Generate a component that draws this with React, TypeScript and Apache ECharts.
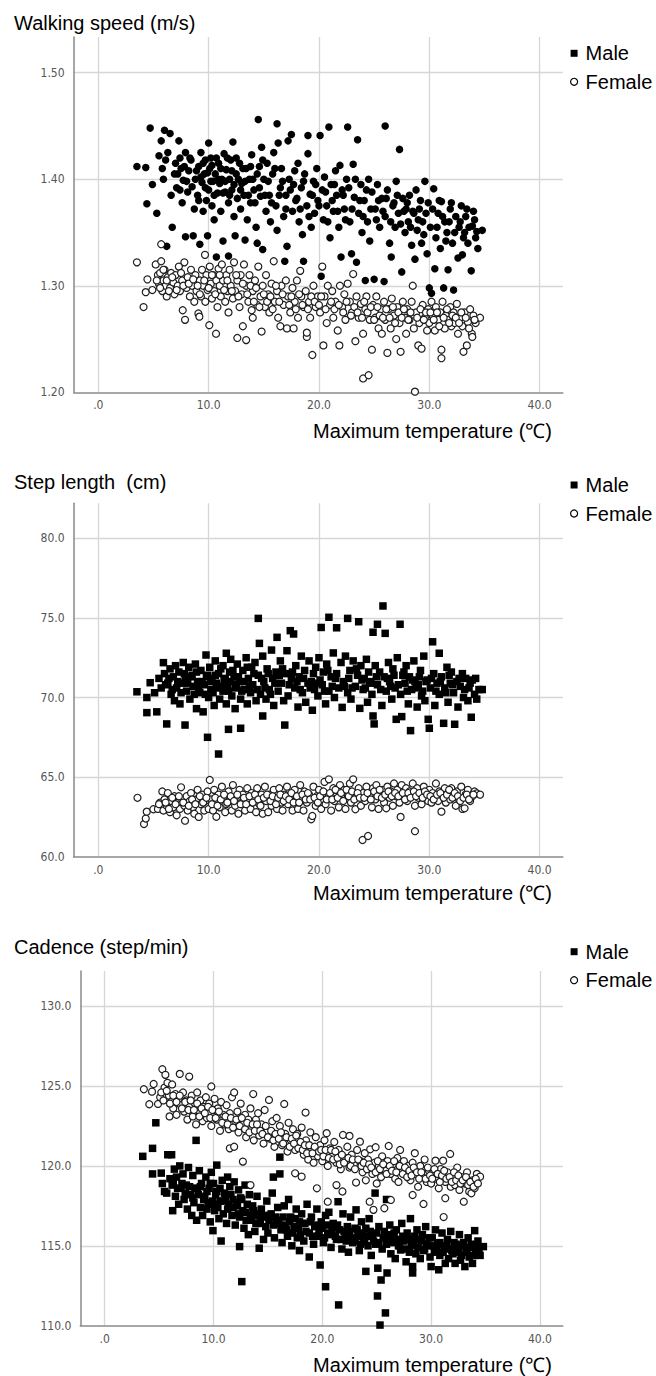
import React, { useEffect, useRef } from "react";
import * as echarts from "echarts";

const panelTitles = ["Walking speed (m/s)", "Step length  (cm)", "Cadence (step/min)"];
const xAxisTitle = "Maximum temperature (\u2103)";
const seriesNames = ["Male", "Female"];
const xTickValues = [0, 10, 20, 30, 40];

// Walking speed (m/s)
const male1: number[][] = [
  [3.5,1.412],[4.3,1.411],[4.4,1.377],[4.7,1.448],[4.9,1.395],[5.3,1.368],
  [5.5,1.422],[5.7,1.436],[5.8,1.41],[5.9,1.4],[6.0,1.446],[6.1,1.418],[6.2,1.337],[6.3,1.425],[6.5,1.443],[6.6,1.385],[6.7,1.355],
  [6.9,1.405],[7.0,1.415],[7.1,1.392],[7.3,1.436],[7.4,1.42],[7.5,1.41],[7.6,1.378],[7.7,1.399],[7.9,1.346],[7.9,1.425],[8.1,1.388],[8.2,1.408],[8.4,1.418],[8.6,1.347],[8.7,1.372],[8.8,1.4],
  [9.0,1.385],[9.1,1.412],[9.2,1.339],[9.3,1.425],[9.4,1.397],[9.5,1.37],[9.6,1.405],[9.7,1.418],[9.8,1.38],[9.9,1.347],[10.0,1.434],[10.0,1.39],
  [10.1,1.41],[10.2,1.42],[10.3,1.375],[10.4,1.398],[10.5,1.362],[10.6,1.405],[10.7,1.327],[10.8,1.387],[10.9,1.415],[11.0,1.396],[11.1,1.37],[11.2,1.4],[11.3,1.342],[11.4,1.424],[11.5,1.388],[11.6,1.409],[11.8,1.328],[11.8,1.378],[11.9,1.4],
  [12.0,1.418],[12.1,1.39],[12.2,1.435],[12.3,1.365],[12.4,1.347],[12.5,1.405],[12.6,1.382],[12.8,1.415],[12.9,1.372],[13.0,1.396],[13.2,1.385],[13.3,1.343],[13.4,1.41],[13.5,1.362],[13.7,1.4],[13.8,1.378],[13.9,1.423],
  [14.1,1.39],[14.3,1.355],[14.4,1.34],[14.5,1.456],[14.6,1.412],[14.7,1.384],[14.8,1.43],[14.9,1.334],[15.0,1.4],[15.2,1.37],[15.3,1.415],[15.5,1.385],[15.6,1.36],[15.8,1.405],[15.9,1.425],
  [16.1,1.375],[16.2,1.452],[16.2,1.352],[16.3,1.434],[16.5,1.392],[16.6,1.41],[16.8,1.365],[16.9,1.323],[17.0,1.385],[17.1,1.337],[17.2,1.436],[17.3,1.4],[17.5,1.442],[17.6,1.37],[17.7,1.395],[17.9,1.38],
  [18.1,1.415],[18.2,1.36],[18.4,1.392],[18.5,1.348],[18.6,1.323],[18.7,1.405],[18.9,1.375],[19.0,1.441],[19.0,1.424],[19.2,1.386],[19.3,1.355],[19.5,1.398],[19.6,1.368],[19.8,1.41],[19.9,1.38],
  [20.1,1.441],[20.2,1.309],[20.3,1.39],[20.4,1.362],[20.5,1.402],[20.7,1.375],[20.9,1.449],[21.0,1.345],[21.1,1.395],[21.3,1.37],[21.5,1.408],[21.6,1.385],[21.8,1.355],[21.9,1.413],
  [22.0,1.327],[22.1,1.39],[22.3,1.372],[22.5,1.4],[22.6,1.449],[22.8,1.36],[22.95,1.33],[23.1,1.414],[23.2,1.383],[23.4,1.322],[23.5,1.437],[23.6,1.368],[23.8,1.395],[23.9,1.35],
  [24.1,1.38],[24.2,1.305],[24.4,1.36],[24.5,1.4],[24.6,1.342],[24.8,1.388],[25.0,1.306],[25.1,1.372],[25.3,1.395],[25.5,1.355],[25.7,1.382],[25.9,1.304],[26.0,1.45],[26.0,1.365],
  [26.2,1.39],[26.4,1.34],[26.55,1.327],[26.7,1.375],[26.9,1.355],[27.0,1.398],[27.2,1.368],[27.3,1.428],[27.5,1.313],[27.6,1.382],[27.8,1.35],[27.9,1.372],
  [28.1,1.36],[28.2,1.385],[28.4,1.338],[28.5,1.37],[28.7,1.325],[28.8,1.39],[28.9,1.352],[29.1,1.372],[29.3,1.34],[29.4,1.36],[29.6,1.398],[29.8,1.33],[29.9,1.378],
  [30.0,1.298],[30.1,1.355],[30.2,1.293],[30.4,1.391],[30.5,1.316],[30.6,1.345],[30.8,1.368],[31.0,1.335],[31.1,1.379],[31.3,1.298],[31.4,1.36],[31.6,1.35],[31.7,1.315],[31.9,1.372],
  [32.1,1.34],[32.2,1.296],[32.4,1.365],[32.6,1.326],[32.7,1.355],[32.9,1.375],[33.0,1.329],[33.2,1.35],[33.4,1.372],[33.5,1.34],[33.8,1.314],[33.9,1.356],[34.0,1.37],[34.2,1.345],[34.3,1.351],[34.8,1.352]
];
const male1Core: number[][] = [
  [7.2,1.405],[7.4,1.39],[7.8,1.412],[8.0,1.398],[8.3,1.42],[8.5,1.393],[8.9,1.408],[9.1,1.38],[9.3,1.402],[9.5,1.415],[9.7,1.392],[9.9,1.406],[10.2,1.398],[10.3,1.413],[10.5,1.385],[10.7,1.42],[10.9,1.4],[11.1,1.41],[11.3,1.387],[11.5,1.398],[11.7,1.42],[11.9,1.385],[12.1,1.408],[12.3,1.395],[12.5,1.42],[12.7,1.4],[12.9,1.39],[13.1,1.41],[13.3,1.398],[13.6,1.385],[13.8,1.412],[14.0,1.4],[14.2,1.378],[14.4,1.405],[14.6,1.392],[14.9,1.418],[15.1,1.385],[15.4,1.398],[15.7,1.378],[16.0,1.41],[16.4,1.385],[16.7,1.398],[17.0,1.372],[17.4,1.39],[17.8,1.408],[18.0,1.382],[18.3,1.372],[18.6,1.398],[19.1,1.365],[19.4,1.385],[19.7,1.395],[20.0,1.375],[20.6,1.388],[20.8,1.36],[21.2,1.38],[21.4,1.395],[21.7,1.37],[22.2,1.385],[22.4,1.362],[22.7,1.392],[23.0,1.372],[23.3,1.4],[23.7,1.38],[24.0,1.365],[24.3,1.39],[24.7,1.372],[25.2,1.362],[25.4,1.38],[25.8,1.37],[26.1,1.382],[26.5,1.36],[26.8,1.378],[27.1,1.385],[27.4,1.358],[27.7,1.37],[28.0,1.378],[28.3,1.355],[28.6,1.368],[29.0,1.362],[29.2,1.38],[29.5,1.348],[29.7,1.368],[30.3,1.372],[30.7,1.355],[30.9,1.38],[31.2,1.365],[31.5,1.342],[31.8,1.36],[32.0,1.378],[32.3,1.35],[32.8,1.36],[33.1,1.345],[33.3,1.365],[33.6,1.355],[34.1,1.362],[34.4,1.335]
];
const female1: number[][] = [
  [3.5,1.322],[4.1,1.28],[4.3,1.294],[4.45,1.306],[4.9,1.296],
  [5.2,1.32],[5.4,1.31],[5.5,1.302],[5.6,1.312],[5.7,1.323],[5.7,1.339],[5.8,1.295],[5.9,1.305],[6.0,1.315],[6.1,1.3],[6.2,1.29],[6.3,1.308],[6.5,1.298],[6.6,1.312],[6.8,1.303],[6.9,1.292],
  [7.0,1.31],[7.2,1.3],[7.3,1.318],[7.4,1.295],[7.6,1.305],[7.65,1.277],[7.8,1.322],[7.86,1.268],[8.0,1.298],[8.1,1.308],[8.3,1.29],[8.4,1.315],[8.5,1.3],[8.7,1.285],[8.8,1.31],[8.9,1.295],
  [9.07,1.274],[9.16,1.271],[9.2,1.305],[9.3,1.29],[9.4,1.315],[9.5,1.3],[9.67,1.329],[9.7,1.285],[9.8,1.31],[9.9,1.296],[10.06,1.263],[10.1,1.318],[10.2,1.302],[10.3,1.288],[10.4,1.31],[10.5,1.295],[10.67,1.255],[10.7,1.305],[10.8,1.28],[10.9,1.316],
  [11.0,1.3],[11.1,1.29],[11.2,1.32],[11.3,1.305],[11.5,1.285],[11.6,1.31],[11.7,1.295],[11.8,1.275],[11.9,1.315],[12.0,1.3],[12.2,1.288],[12.3,1.322],[12.4,1.295],[12.6,1.251],[12.6,1.305],[12.8,1.28],[12.9,1.31],
  [13.0,1.292],[13.1,1.262],[13.2,1.32],[13.4,1.249],[13.4,1.3],[13.6,1.285],[13.7,1.31],[13.9,1.277],[14.0,1.27],[14.0,1.295],[14.2,1.305],[14.4,1.282],[14.5,1.318],[14.7,1.29],[14.8,1.257],[14.9,1.3],
  [15.1,1.28],[15.2,1.31],[15.4,1.292],[15.5,1.275],[15.7,1.302],[15.9,1.323],[16.0,1.285],[16.2,1.295],[16.3,1.27],[16.5,1.262],[16.6,1.3],[16.8,1.282],[17.0,1.305],[17.1,1.26],
  [17.2,1.29],[17.4,1.275],[17.6,1.298],[17.7,1.26],[17.8,1.285],[18.0,1.305],[18.1,1.27],[18.3,1.314],[18.4,1.29],[18.6,1.28],[18.8,1.295],[18.9,1.252],[18.9,1.256],[19.1,1.285],[19.2,1.27],[19.4,1.235],[19.5,1.3],[19.7,1.28],
  [19.9,1.29],[20.1,1.275],[20.3,1.318],[20.4,1.244],[20.5,1.29],[20.7,1.265],[20.8,1.3],[21.0,1.282],[21.2,1.295],[21.3,1.27],[21.5,1.285],[21.7,1.258],[21.85,1.244],[21.9,1.3],
  [22.1,1.28],[22.3,1.292],[22.4,1.268],[22.6,1.302],[22.8,1.285],[23.0,1.275],[23.1,1.311],[23.3,1.248],[23.4,1.29],[23.6,1.27],[23.8,1.283],[24.0,1.255],[24.0,1.213],
  [24.2,1.278],[24.3,1.29],[24.5,1.216],[24.6,1.268],[24.8,1.24],[24.9,1.282],[25.1,1.27],[25.2,1.29],[25.4,1.26],[25.6,1.278],[25.7,1.255],[25.9,1.285],[26.0,1.268],
  [26.2,1.237],[26.3,1.278],[26.5,1.26],[26.6,1.288],[26.8,1.272],[27.0,1.25],[27.1,1.28],[27.3,1.265],[27.4,1.238],[27.6,1.285],[27.8,1.27],[27.9,1.255],
  [28.0,1.278],[28.2,1.268],[28.4,1.285],[28.5,1.3],[28.6,1.26],[28.7,1.2006],[28.8,1.275],[29.0,1.244],[29.1,1.265],[29.3,1.241],[29.4,1.282],[29.6,1.27],[29.8,1.258],[29.9,1.278],
  [30.0,1.265],[30.2,1.285],[30.3,1.272],[30.5,1.258],[30.6,1.28],[30.8,1.268],[31.0,1.275],[31.1,1.232],[31.1,1.24],[31.2,1.285],[31.4,1.26],[31.5,1.272],[31.7,1.268],[31.9,1.28],
  [32.0,1.262],[32.2,1.275],[32.3,1.265],[32.5,1.283],[32.6,1.255],[32.8,1.27],[33.0,1.262],[33.1,1.238],[33.2,1.275],[33.4,1.244],[33.5,1.266],[33.7,1.278],[33.85,1.255],[33.9,1.252],[34.0,1.272],[34.2,1.265],[34.6,1.27]
];
const female1Core: number[][] = [
  [5.3,1.305],[5.6,1.298],[5.9,1.315],[6.2,1.305],[6.4,1.295],[6.7,1.308],[7.1,1.296],[7.5,1.312],[7.7,1.3],[8.2,1.302],[8.6,1.306],[9.0,1.3],[9.2,1.292],[9.6,1.305],[10.0,1.298],[10.3,1.31],[10.6,1.292],[11.0,1.31],[11.4,1.296],[11.7,1.305],[12.1,1.295],[12.5,1.31],[12.7,1.29],[13.1,1.302],[13.5,1.292],[13.8,1.3],[14.1,1.285],[14.3,1.298],[14.6,1.28],[15.0,1.292],[15.3,1.285],[15.6,1.29],[15.8,1.278],[16.1,1.3],[16.4,1.285],[16.7,1.292],[17.3,1.282],[17.5,1.29],[17.9,1.278],[18.2,1.292],[18.5,1.282],[19.0,1.278],[19.3,1.29],[19.6,1.285],[20.0,1.282],[20.2,1.29],[20.6,1.278],[21.1,1.285],[21.4,1.278],[21.8,1.282],[22.2,1.275],[22.5,1.285],[22.9,1.272],[23.2,1.28],[23.5,1.275],[23.9,1.27],[24.1,1.285],[24.4,1.275],[24.7,1.28],[25.0,1.268],[25.3,1.28],[25.5,1.272],[25.8,1.27],[26.1,1.278],[26.4,1.27],[26.7,1.28],[26.9,1.265],[27.2,1.275],[27.5,1.27],[27.7,1.278],[28.1,1.268],[28.3,1.275],[28.9,1.27],[29.2,1.278],[29.5,1.268],[29.7,1.275],[30.1,1.275],[30.4,1.268],[30.7,1.275],[30.9,1.262],[31.3,1.27],[31.6,1.278],[31.8,1.265],[32.1,1.272],[32.4,1.27],[32.7,1.265],[32.9,1.275],[33.3,1.27],[33.6,1.26],[34.1,1.268]
];

// Step length (cm)
const male2: number[][] = [
  [3.5,70.36],[4.4,70.0],[4.4,69.05],[4.7,70.93],[5.1,70.3],[5.3,69.1],[5.5,71.2],[5.7,70.6],[5.9,72.19],[6.0,71.5],
  [6.2,68.34],[6.3,70.9],[6.5,71.8],[6.6,70.2],[6.8,71.3],[6.9,69.8],[7.0,72.0],[7.1,70.6],[7.3,71.6],[7.4,69.6],[7.6,70.9],[7.7,72.2],[7.86,68.27],[7.9,71.2],
  [8.0,70.4],[8.2,71.9],[8.3,69.9],[8.5,71.4],[8.6,70.7],[8.8,72.1],[8.9,69.3],[9.0,71.0],[9.2,70.3],[9.3,71.7],[9.5,69.1],[9.6,70.8],[9.76,72.67],[9.8,71.3],[9.9,67.5],[10.0,70.0],
  [10.1,71.9],[10.2,70.5],[10.3,71.2],[10.5,69.5],[10.6,72.3],[10.7,70.9],[10.9,66.45],[10.9,71.5],[11.0,69.9],[11.2,70.7],[11.3,72.0],[11.4,71.1],[11.6,72.78],[11.6,69.6],[11.8,68.0],[11.8,70.4],[11.9,71.6],
  [12.0,72.4],[12.1,70.1],[12.3,71.3],[12.4,69.3],[12.5,70.8],[12.6,72.1],[12.8,71.0],[12.9,68.07],[12.9,69.9],[13.1,71.7],[13.2,70.5],[13.4,72.5],[13.5,69.6],[13.6,71.2],[13.8,70.3],[13.9,71.9],
  [14.0,70.8],[14.2,72.2],[14.3,69.8],[14.5,74.97],[14.5,71.4],[14.6,73.4],[14.7,70.2],[14.9,68.84],[14.9,72.6],[15.0,71.0],[15.2,69.9],[15.3,71.8],[15.5,70.5],[15.7,72.98],[15.8,71.2],[15.9,69.5],
  [16.1,71.6],[16.2,73.78],[16.3,70.4],[16.5,72.3],[16.6,70.9],[16.8,69.8],[16.9,68.27],[17.0,71.5],[17.1,72.94],[17.2,70.1],[17.4,74.2],[17.5,71.2],[17.7,73.99],[17.8,70.6],[17.9,72.0],
  [18.1,69.4],[18.2,71.3],[18.4,72.6],[18.5,70.3],[18.7,71.7],[18.8,69.7],[19.0,70.9],[19.1,72.3],[19.3,71.0],[19.4,69.2],[19.6,70.5],[19.7,71.9],[19.9,70.1],
  [20.0,72.5],[20.2,74.4],[20.3,70.8],[20.4,71.6],[20.6,69.6],[20.7,72.1],[20.9,75.04],[20.9,70.4],[21.1,71.3],[21.3,72.8],[21.4,70.0],[21.6,74.38],[21.6,71.5],[21.8,70.6],[22.0,72.2],
  [22.1,69.38],[22.2,71.0],[22.4,72.6],[22.6,74.97],[22.6,70.3],[22.8,71.7],[22.9,69.9],[23.1,72.3],[23.3,70.7],[23.5,71.4],[23.6,74.76],[23.7,69.32],[23.8,72.0],[24.0,70.5],
  [24.1,71.2],[24.3,72.4],[24.4,69.7],[24.6,71.0],[24.8,70.2],[24.9,74.1],[24.9,68.84],[25.0,68.34],[25.1,72.0],[25.3,74.6],[25.3,70.8],[25.5,71.6],[25.7,69.5],[25.8,75.75],[25.9,71.3],[26.0,74.03],
  [26.1,70.4],[26.3,72.2],[26.4,71.0],[26.6,69.9],[26.7,71.8],[26.9,70.6],[27.0,68.63],[27.1,72.5],[27.35,74.6],[27.4,70.2],[27.5,68.8],[27.6,71.4],[27.8,70.9],[27.9,72.0],
  [28.1,69.6],[28.2,71.3],[28.3,67.92],[28.4,70.5],[28.6,72.3],[28.7,71.0],[28.9,69.4],[29.0,70.8],[29.2,71.7],[29.3,70.1],[29.5,72.6],[29.6,69.8],[29.8,71.1],[29.9,68.63],[30.0,68.07],
  [30.1,70.6],[30.3,73.5],[30.4,71.5],[30.5,69.5],[30.7,70.9],[30.9,72.78],[30.9,70.2],[31.1,71.3],[31.3,68.38],[31.4,70.6],[31.6,71.9],[31.7,69.7],[31.9,70.9],
  [32.0,71.6],[32.2,70.3],[32.3,68.32],[32.5,71.0],[32.6,69.4],[32.8,70.7],[33.0,71.5],[33.1,70.0],[33.3,71.2],[33.5,69.8],[33.6,70.6],[33.8,68.76],[33.9,71.1],[34.1,70.2],[34.3,69.9],[34.5,70.5],[34.8,70.5]
];
const male2Core: number[][] = [
  [6.1,70.8],[6.4,71.2],[6.7,70.5],[7.2,71.0],[7.5,70.3],[7.8,71.5],[8.1,70.9],[8.4,71.3],[8.7,70.2],[8.9,71.6],[9.1,70.6],[9.4,71.0],[9.7,70.2],[9.9,71.4],[10.2,71.0],[10.4,70.3],[10.6,71.4],[10.8,70.6],[11.1,71.8],[11.3,70.4],[11.5,71.2],[11.7,70.8],[12.0,71.0],[12.2,71.7],[12.4,70.6],[12.7,71.3],[13.0,70.4],[13.3,71.0],[13.5,71.9],[13.7,70.7],[14.1,71.5],[14.4,70.5],[14.8,71.2],[15.1,70.6],[15.4,71.5],[15.6,70.2],[16.0,70.9],[16.4,71.4],[16.7,71.8],[17.3,70.8],[17.6,71.6],[18.0,71.0],[18.3,70.5],[18.6,71.2],[19.2,70.6],[19.5,71.5],[19.8,70.9],[20.1,71.1],[20.5,70.4],[20.8,71.7],[21.2,70.7],[21.5,71.2],[22.3,70.7],[22.7,71.2],[23.0,70.6],[23.4,71.8],[23.9,71.1],[24.2,70.6],[24.5,71.6],[24.7,70.9],[25.2,71.3],[25.6,70.5],[26.2,71.2],[26.5,70.7],[26.8,71.4],[27.2,70.8],[27.7,71.6],[28.0,70.4],[28.5,71.1],[28.8,70.6],[29.1,71.3],[29.4,70.4],[29.7,71.0],[30.2,71.2],[30.6,70.4],[31.0,71.0],[31.5,70.3],[31.8,71.4],[32.1,70.8],[32.7,71.2],[33.2,70.5],[33.7,70.9],[34.2,71.2]
];
const female2: number[][] = [
  [3.55,63.7],[4.14,62.05],[4.3,62.4],[4.39,62.83],[4.99,62.98],[5.4,63.0],[5.6,63.4],[5.8,64.1],[5.9,62.9],[6.0,63.6],
  [6.2,63.2],[6.3,64.0],[6.5,62.8],[6.6,63.5],[6.8,63.1],[6.9,63.8],[7.1,62.6],[7.2,63.4],[7.4,63.0],[7.5,64.36],[7.6,63.6],[7.8,63.2],[7.86,62.26],[8.0,63.8],
  [8.1,62.9],[8.3,63.5],[8.4,64.0],[8.6,63.1],[8.7,62.7],[8.9,63.6],[9.0,64.2],[9.1,62.5],[9.3,63.3],[9.4,63.9],[9.6,62.9],[9.7,63.5],[9.9,64.1],[10.0,63.0],
  [10.1,64.82],[10.2,63.6],[10.4,62.9],[10.5,64.2],[10.7,62.51],[10.7,63.4],[10.9,63.9],[11.0,63.1],[11.2,64.4],[11.3,63.6],[11.5,62.8],[11.6,63.3],[11.8,64.1],[11.9,63.5],
  [12.1,62.9],[12.2,64.5],[12.4,63.2],[12.5,63.8],[12.7,62.7],[12.8,64.2],[13.0,63.4],[13.1,63.9],[13.3,62.9],[13.5,64.3],[13.6,63.5],[13.8,63.0],[13.9,64.0],
  [14.1,63.6],[14.3,62.8],[14.4,64.3],[14.6,63.3],[14.8,63.9],[14.9,62.7],[15.1,64.4],[15.2,63.5],[15.4,62.8],[15.5,63.9],[15.7,63.2],[15.9,64.2],
  [16.0,63.6],[16.2,63.0],[16.4,64.3],[16.6,63.4],[16.7,62.9],[16.9,63.9],[17.1,64.4],[17.2,63.3],[17.4,63.8],[17.6,62.9],[17.8,64.2],[17.9,63.5],
  [18.1,63.0],[18.3,64.5],[18.4,63.7],[18.6,62.9],[18.7,64.1],[18.9,63.4],[19.1,63.9],[19.3,62.35],[19.4,62.56],[19.5,64.4],[19.7,63.2],[19.8,63.8],
  [20.0,64.2],[20.2,63.0],[20.3,63.6],[20.5,64.7],[20.6,63.3],[20.9,64.86],[20.9,63.9],[21.1,62.9],[21.3,64.3],[21.4,63.5],[21.6,64.0],[21.8,63.1],[21.9,64.5],
  [22.1,63.7],[22.3,64.2],[22.4,63.0],[22.6,63.9],[22.8,64.6],[22.9,63.4],[23.1,64.86],[23.3,62.98],[23.4,63.8],[23.6,64.3],[23.8,63.2],[23.95,61.05],[24.0,64.0],
  [24.2,63.5],[24.3,64.4],[24.45,61.3],[24.6,63.8],[24.8,63.1],[24.9,64.3],[25.1,63.6],[25.2,64.5],[25.4,63.0],[25.6,63.9],[25.8,64.2],[25.9,63.4],[26.1,63.04],
  [26.2,64.4],[26.4,63.7],[26.5,64.1],[26.7,63.2],[26.8,64.6],[27.0,63.8],[27.1,64.2],[27.3,63.4],[27.4,62.5],[27.5,64.5],[27.7,63.9],[27.9,64.3],
  [28.0,63.5],[28.2,64.1],[28.4,63.8],[28.5,64.6],[28.7,61.6],[28.7,63.2],[28.9,64.3],[29.0,63.7],[29.2,64.0],[29.3,63.3],[29.5,64.4],[29.7,63.8],[29.9,63.5],
  [30.0,64.2],[30.2,63.4],[30.3,64.0],[30.5,63.7],[30.6,64.6],[30.8,63.5],[30.9,64.1],[31.1,62.83],[31.2,63.9],[31.4,64.3],[31.5,63.4],[31.7,64.0],[31.9,63.6],
  [32.0,64.3],[32.2,63.8],[32.4,63.2],[32.5,64.1],[32.7,63.6],[32.9,64.4],[33.0,63.0],[33.2,63.04],[33.3,63.9],[33.5,64.2],[33.7,63.5],[33.9,63.8],[34.1,64.1],[34.3,63.98],[34.6,63.9]
];
const female2Core: number[][] = [
  [5.5,63.3],[6.1,63.4],[6.4,63.0],[6.7,63.7],[7.0,63.3],[7.3,63.8],[7.7,63.4],[8.2,63.2],[8.5,63.6],[8.8,63.3],[9.2,63.8],[9.5,63.4],[9.8,63.7],[10.3,63.3],[10.6,63.7],[10.8,63.2],[11.1,63.6],[11.4,63.9],[11.7,63.4],[12.0,63.8],[12.3,63.5],[12.6,63.9],[12.9,63.3],[13.2,63.7],[13.4,63.3],[13.7,63.8],[14.0,63.4],[14.2,63.9],[14.5,63.6],[14.7,63.2],[15.0,63.7],[15.3,63.9],[15.6,63.5],[15.8,63.8],[16.1,63.3],[16.3,63.7],[16.5,63.9],[16.8,63.5],[17.0,63.8],[17.3,63.6],[17.5,64.0],[17.7,63.4],[18.0,63.8],[18.2,63.4],[18.5,63.9],[18.8,63.6],[19.0,64.0],[19.2,63.6],[19.6,63.7],[19.9,63.4],[20.1,63.8],[20.4,64.1],[20.7,63.6],[21.0,64.0],[21.2,63.6],[21.5,64.2],[21.7,63.7],[22.0,64.0],[22.2,63.5],[22.5,64.2],[22.7,63.8],[23.0,64.1],[23.2,63.6],[23.5,64.0],[23.7,63.7],[24.1,63.7],[24.4,64.0],[24.7,63.6],[25.0,64.1],[25.3,63.8],[25.5,64.2],[25.7,63.7],[26.0,63.9],[26.3,64.1],[26.6,63.8],[26.9,64.0],[27.2,63.8],[27.6,64.0],[27.8,63.6],[28.1,64.0],[28.3,63.7],[28.6,64.1],[28.8,63.8],[29.1,64.0],[29.4,63.7],[29.6,64.1],[29.8,63.9],[30.1,63.8],[30.4,63.6],[30.7,63.9],[31.0,64.0],[31.3,63.7],[31.6,63.9],[31.8,64.2],[32.1,63.7],[32.3,64.0],[32.6,63.8],[32.8,63.5],[33.1,63.7],[33.4,63.9],[33.6,63.6],[34.0,63.9]
];

// Cadence (step/min)
const male3: number[][] = [
  [3.5,120.6],[4.4,121.1],[4.4,119.5],[4.7,122.7],[5.2,119.55],[5.3,118.9],[5.5,118.4],[5.7,118.3],[5.8,120.7],[6.0,119.2],[6.15,120.7],[6.2,118.8],[6.25,117.2],
  [6.4,119.8],[6.5,118.1],[6.6,119.3],[6.8,117.6],[6.9,120.0],[7.0,118.6],[7.2,119.5],[7.3,117.9],[7.5,118.8],[7.6,117.3],[7.7,119.9],[7.9,118.2],[8.0,116.9],
  [8.1,119.4],[8.2,117.7],[8.4,121.6],[8.45,116.6],[8.5,118.6],[8.7,119.7],[8.8,117.4],[8.9,118.9],[9.0,116.9],[9.2,118.1],[9.3,119.3],[9.4,117.3],[9.6,118.6],[9.7,116.5],[9.8,119.6],[9.9,117.8],[9.95,115.95],
  [10.0,118.9],[10.1,117.2],[10.3,120.05],[10.3,118.4],[10.5,116.7],[10.6,117.8],[10.7,115.3],[10.8,119.1],[10.9,117.0],[11.0,118.3],[11.2,116.4],[11.3,119.3],[11.4,117.6],[11.5,118.7],[11.7,116.9],[11.8,117.9],[11.9,119.0],
  [12.0,116.3],[12.2,117.5],[12.3,118.5],[12.4,114.95],[12.4,116.8],[12.6,112.76],[12.6,117.9],[12.8,116.1],[12.9,118.8],[13.0,117.1],[13.2,115.7],[13.3,118.2],[13.5,116.6],[13.6,117.5],[13.8,115.9],[13.9,116.9],
  [14.0,118.1],[14.2,114.85],[14.2,116.4],[14.4,117.3],[14.6,115.4],[14.7,116.8],[14.9,117.8],[15.0,115.8],[15.2,116.9],[15.4,118.3],[15.5,119.3],[15.6,115.5],[15.8,116.6],[15.9,117.4],
  [16.1,120.55],[16.1,119.5],[16.2,116.0],[16.3,115.2],[16.5,117.5],[16.6,116.3],[16.8,115.6],[16.9,117.9],[17.1,116.8],[17.2,115.0],[17.4,116.2],[17.6,117.3],[17.7,115.5],[17.9,114.7],[17.9,116.5],
  [18.1,117.0],[18.3,115.3],[18.4,116.4],[18.6,117.6],[18.8,114.3],[18.8,115.8],[19.0,116.8],[19.2,115.1],[19.3,116.2],[19.5,117.3],[19.6,115.6],[19.8,113.8],[19.9,116.5],
  [20.1,115.2],[20.3,112.44],[20.3,116.9],[20.5,115.8],[20.6,117.1],[20.8,114.9],[21.0,116.4],[21.15,116.16],[21.3,115.4],[21.45,117.76],[21.5,111.3],[21.6,116.0],[21.8,114.8],[21.9,117.0],
  [22.1,115.6],[22.3,116.2],[22.4,114.6],[22.6,116.8],[22.8,115.2],[23.0,115.3],[23.1,117.25],[23.2,116.0],[23.4,114.7],[23.6,116.5],[23.8,115.4],[24.0,113.4],[24.0,116.1],
  [24.2,115.0],[24.3,116.7],[24.5,114.4],[24.6,115.7],[24.85,118.3],[24.9,115.1],[25.07,111.86],[25.1,113.6],[25.2,116.2],[25.3,110.04],[25.4,112.86],[25.5,114.8],[25.7,115.9],[25.8,110.8],[25.9,117.9],[25.95,113.3],[26.0,115.3],
  [26.2,116.3],[26.3,114.5],[26.5,115.6],[26.7,114.2],[26.8,116.0],[27.0,115.0],[27.2,114.74],[27.3,116.4],[27.5,115.3],[27.7,114.0],[27.8,115.8],[28.0,114.6],
  [28.1,116.7],[28.3,113.3],[28.3,113.7],[28.4,115.2],[28.6,114.5],[28.7,116.0],[28.9,115.4],[29.0,114.2],[29.2,115.7],[29.4,114.8],[29.5,116.2],[29.7,115.0],[29.9,114.3],
  [30.0,113.7],[30.1,115.5],[30.3,114.6],[30.4,116.0],[30.6,115.1],[30.7,113.5],[30.8,114.4],[31.0,115.8],[31.2,114.9],[31.3,113.9],[31.5,115.4],[31.6,114.2],[31.8,115.9],[31.9,114.7],
  [32.1,115.2],[32.2,113.9],[32.4,114.6],[32.6,115.7],[32.7,114.1],[32.9,115.0],[33.1,113.7],[33.2,114.8],[33.4,115.5],[33.5,114.3],[33.7,115.1],[33.8,113.9],[34.0,115.95],[34.1,114.6],[34.3,115.3],[34.5,114.4],[34.8,114.95]
];
const male3Core: number[][] = [
  [6.3,119.0],[6.7,118.6],[7.1,118.9],[7.4,118.3],[7.8,118.7],[8.1,118.0],[8.3,118.6],[8.6,118.2],[8.8,118.7],[9.1,117.9],[9.4,118.4],[9.5,117.7],[9.7,118.9],[10.0,117.6],[10.2,118.2],[10.4,117.4],[10.6,118.6],[10.9,117.8],[11.1,118.0],[11.3,117.3],[11.6,118.2],[11.8,117.4],[12.1,117.7],[12.3,117.0],[12.5,118.0],[12.7,117.2],[13.0,116.6],[13.1,117.6],[13.4,116.9],[13.7,117.2],[13.9,116.4],[14.1,117.0],[14.3,116.6],[14.6,116.9],[14.8,116.2],[15.1,116.6],[15.3,117.0],[15.5,116.3],[15.7,116.8],[16.0,116.4],[16.4,116.8],[16.7,116.0],[17.0,116.5],[17.3,115.8],[17.5,116.7],[17.8,116.1],[18.0,115.7],[18.2,116.4],[18.5,115.9],[18.9,116.5],[19.1,115.6],[19.4,116.3],[19.7,115.9],[20.0,116.1],[20.2,115.5],[20.4,116.3],[20.7,115.7],[20.9,116.0],[21.2,115.6],[21.4,116.3],[21.7,115.4],[22.0,115.9],[22.2,115.3],[22.5,115.9],[22.7,115.5],[23.0,116.1],[23.3,115.6],[23.5,115.1],[23.7,115.8],[23.9,115.2],[24.2,115.6],[24.4,115.9],[24.7,115.3],[25.0,115.8],[25.2,115.2],[25.6,115.5],[25.9,115.1],[26.1,115.7],[26.4,115.2],[26.6,115.8],[26.9,115.4],[27.1,115.0],[27.4,115.6],[27.6,114.8],[27.9,115.4],[28.2,115.0],[28.5,115.6],[28.8,114.9],[29.1,115.3],[29.3,114.7],[29.6,115.1],[29.8,115.5],[30.2,115.0],[30.5,114.8],[30.8,115.2],[31.1,114.6],[31.4,115.0],[31.7,114.8],[32.0,114.5],[32.3,115.1],[32.5,114.8],[32.8,114.4],[33.0,115.2],[33.3,114.6],[33.6,114.9],[33.9,114.4],[34.2,115.0],[34.4,114.7]
];
const female3: number[][] = [
  [3.6,124.8],[4.1,123.86],[4.35,124.65],[4.5,125.13],[4.9,123.88],[5.1,124.3],[5.3,126.05],[5.5,124.9],[5.58,125.7],[5.77,125.2],[5.9,124.4],[5.96,123.1],
  [6.1,124.0],[6.2,125.1],[6.3,123.6],[6.5,124.5],[6.6,123.2],[6.8,124.2],[6.9,125.76],[7.0,123.8],[7.2,124.6],[7.3,123.4],[7.5,124.1],[7.6,122.9],[7.77,125.59],[7.8,123.7],[8.0,124.4],
  [8.1,123.1],[8.3,123.9],[8.4,122.6],[8.5,124.6],[8.7,123.4],[8.8,124.1],[9.0,122.8],[9.1,123.7],[9.3,124.3],[9.4,123.0],[9.6,123.9],[9.8,124.97],[9.8,122.5],[10.0,123.5],
  [10.1,124.2],[10.3,122.9],[10.4,123.6],[10.6,122.2],[10.7,124.0],[10.9,123.2],[11.0,122.6],[11.2,123.8],[11.4,122.3],[11.5,121.1],[11.5,123.3],[11.7,124.3],[11.9,121.2],[11.9,124.6],[12.0,122.8],
  [12.2,123.4],[12.3,122.1],[12.5,123.9],[12.7,120.27],[12.7,122.6],[12.9,123.2],[13.0,121.8],[13.2,122.9],[13.4,118.8],[13.4,123.6],[13.5,122.3],[13.65,124.5],[13.7,121.6],[13.9,122.9],
  [14.1,123.3],[14.2,121.9],[14.4,122.6],[14.6,121.4],[14.7,123.5],[14.9,122.1],[15.1,124.13],[15.2,121.7],[15.4,122.8],[15.6,121.2],[15.8,123.0],[15.9,121.9],
  [16.1,122.5],[16.3,121.3],[16.5,123.88],[16.6,122.0],[16.8,120.9],[16.9,122.7],[17.1,121.6],[17.3,122.3],[17.5,119.54],[17.5,121.0],[17.7,122.0],[17.9,121.4],
  [18.1,119.33],[18.1,122.4],[18.3,120.7],[18.46,123.34],[18.5,121.6],[18.7,120.4],[18.9,122.1],[19.0,121.0],[19.2,120.2],[19.4,121.8],[19.5,118.6],[19.6,120.6],[19.8,121.3],
  [20.0,120.3],[20.2,121.6],[20.4,122.05],[20.5,117.76],[20.5,120.0],[20.7,121.1],[20.9,120.6],[21.1,121.5],[21.3,118.8],[21.3,120.2],[21.5,121.0],[21.7,119.8],[21.85,118.4],[21.9,121.94],
  [22.1,120.5],[22.3,121.2],[22.5,121.88],[22.5,119.9],[22.7,120.7],[22.9,120.1],[23.1,118.96],[23.2,121.0],[23.46,121.52],[23.5,120.3],[23.7,119.6],[23.9,120.8],[24.0,119.1],
  [24.2,120.4],[24.35,117.76],[24.4,121.04],[24.6,119.5],[24.7,117.25],[24.8,120.2],[24.9,121.17],[25.0,118.9],[25.2,120.0],[25.4,119.3],[25.5,120.6],[25.7,117.35],[25.8,119.7],[26.0,120.3],
  [26.1,121.25],[26.3,117.87],[26.3,119.5],[26.5,120.1],[26.7,119.2],[26.9,120.5],[27.0,119.0],[27.15,121.0],[27.3,119.8],[27.5,120.3],[27.7,119.4],[27.9,120.0],
  [28.1,119.1],[28.3,118.18],[28.3,120.2],[28.5,120.8],[28.6,119.5],[28.8,118.7],[29.0,120.0],[29.2,119.3],[29.3,117.62],[29.4,120.4],[29.6,119.0],[29.8,119.7],
  [30.0,118.9],[30.2,119.6],[30.4,120.33],[30.5,119.2],[30.7,118.6],[30.9,119.8],[31.1,120.33],[31.15,116.8],[31.3,117.98],[31.3,119.0],[31.5,119.6],[31.75,120.75],[31.8,118.7],
  [32.0,119.4],[32.2,118.8],[32.4,119.9],[32.6,118.5],[32.8,119.3],[33.0,117.76],[33.1,118.9],[33.3,119.6],[33.5,118.4],[33.7,118.29],[33.8,119.1],[34.0,118.6],[34.2,119.5],[34.5,119.33]
];
const female3Core: number[][] = [
  [5.2,124.6],[5.4,124.1],[5.7,124.7],[6.0,123.9],[6.3,124.4],[6.6,124.0],[6.9,124.4],[7.1,123.6],[7.4,124.0],[7.7,123.5],[7.9,124.1],[8.2,123.5],[8.5,123.9],[8.7,123.1],[8.9,123.6],[9.2,123.3],[9.5,123.7],[9.7,123.0],[9.9,123.5],[10.2,123.0],[10.5,123.4],[10.8,122.7],[11.1,123.1],[11.3,122.6],[11.6,123.0],[11.8,122.4],[12.1,122.9],[12.4,122.5],[12.6,123.0],[12.9,122.3],[13.1,122.7],[13.3,122.1],[13.6,122.6],[13.8,122.2],[14.0,122.6],[14.3,122.2],[14.5,122.0],[14.8,122.5],[15.0,121.8],[15.3,122.2],[15.5,121.6],[15.7,122.0],[16.0,121.7],[16.2,122.1],[16.4,121.4],[16.7,121.8],[17.0,121.2],[17.2,121.7],[17.4,121.4],[17.6,121.9],[17.8,121.1],[18.0,121.5],[18.2,121.0],[18.4,121.3],[18.6,120.8],[18.8,121.3],[19.1,120.8],[19.3,121.2],[19.7,120.9],[19.9,121.0],[20.1,120.6],[20.3,121.0],[20.6,120.5],[20.8,121.0],[21.0,120.4],[21.2,120.9],[21.4,120.5],[21.6,120.1],[21.8,120.7],[22.0,120.2],[22.4,120.5],[22.6,120.0],[22.8,120.4],[23.0,119.8],[23.3,120.4],[23.6,120.0],[23.8,120.2],[24.1,119.8],[24.3,120.1],[24.5,119.9],[24.9,119.6],[25.1,120.3],[25.3,119.8],[25.6,120.1],[25.9,119.5],[26.2,120.0],[26.4,119.7],[26.6,120.3],[26.8,119.6],[27.1,120.0],[27.4,119.5],[27.6,119.9],[27.8,119.3],[28.0,119.7],[28.2,119.4],[28.4,119.9],[28.7,119.6],[28.9,119.2],[29.1,119.6],[29.5,119.2],[29.7,119.9],[29.9,119.4],[30.1,119.2],[30.3,119.8],[30.6,119.5],[30.8,119.0],[31.0,119.4],[31.2,119.7],[31.4,119.2],[31.7,119.3],[31.9,119.0],[32.1,119.6],[32.3,119.1],[32.5,119.4],[32.7,118.9],[32.9,119.1],[33.2,119.3],[33.4,118.8],[33.6,119.0],[33.9,118.7],[34.1,119.2],[34.3,118.9]
];

const yRanges = [
  { min: 1.2, max: 1.5335, interval: 0.1, digits: 2 },
  { min: 60, max: 82.2, interval: 5, digits: 1 },
  { min: 110, max: 132.2, interval: 5, digits: 1 },
];

const FONT = "'Liberation Sans', Arial, Helvetica, sans-serif";
const TICK_FONT = "'Liberation Sans Narrow', 'Arial Narrow', 'DejaVu Sans Condensed', 'Liberation Sans', sans-serif";

export default function App() {
  const ref = useRef<HTMLDivElement>(null);
  useEffect(() => {
    document.body.style.margin = "0";
    const chart = echarts.init(ref.current!, null, { renderer: "svg" });
    const grids = [
      { left: 73.6, top: 37, width: 489.2, height: 355.3 },
      { left: 73.6, top: 503.3, width: 489.2, height: 353.4 },
      { left: 80.3, top: 971, width: 482.5, height: 354.7 },
    ];
    const titleTops = [13, 471.5, 936.5];
    const legendTops = [43.3, 475, 941.7];
    const axisTitleY = [431, 893, 1365];

    const xAxes = grids.map((_, i) => ({
      type: "value",
      gridIndex: i,
      min: -2.24,
      max: 42.1,
      splitNumber: 5,
      axisLine: { show: true, onZero: false, lineStyle: { color: "#8a8a8a", width: 1.5 } },
      axisTick: { show: false },
      axisLabel: {
        showMinLabel: false,
        showMaxLabel: false,
        margin: 7,
        color: "#555",
        fontSize: 12,
        fontFamily: TICK_FONT,
        formatter: (v: number) => {
          const r = Math.round(v * 100) / 100;
          if (!xTickValues.includes(r)) return "";
          return r === 0 ? ".0" : r.toFixed(1);
        },
      },
      splitLine: { show: true, showMinLine: false, showMaxLine: false, lineStyle: { color: "#d6d6d6", width: 1.3 } },
    }));
    const yAxes = yRanges.map((r, i) => ({
      type: "value",
      gridIndex: i,
      min: r.min,
      max: r.max,
      interval: r.interval,
      axisLine: { show: true, onZero: false, lineStyle: { color: "#8a8a8a", width: 1.5 } },
      axisTick: { show: false },
      axisLabel: {
        showMaxLabel: false,
        margin: 9,
        color: "#555",
        fontSize: 12,
        fontFamily: TICK_FONT,
        formatter: (v: number) => v.toFixed(r.digits),
      },
      splitLine: { show: true, showMinLine: false, showMaxLine: false, lineStyle: { color: "#d6d6d6", width: 1.3 } },
    }));

    const mk = (name: string, data: number[][], idx: number, symbol: string, filled: boolean) => ({
      type: "scatter",
      name,
      data,
      xAxisIndex: idx,
      yAxisIndex: idx,
      symbol,
      symbolSize: filled ? 7.5 : 7,
      silent: true,
      itemStyle: filled
        ? { color: "#000", opacity: 1 }
        : { color: "#fff", borderColor: "#1e1e1e", borderWidth: 1.2, opacity: 1 },
    });

    const series = [
      mk(seriesNames[0], [...male1, ...male1Core], 0, "circle", true),
      mk(seriesNames[1], [...female1, ...female1Core], 0, "circle", false),
      mk(seriesNames[0], [...male2, ...male2Core], 1, "rect", true),
      mk(seriesNames[1], [...female2, ...female2Core], 1, "circle", false),
      mk(seriesNames[0], [...male3, ...male3Core], 2, "rect", true),
      mk(seriesNames[1], [...female3, ...female3Core], 2, "circle", false),
    ];

    chart.setOption({
      animation: false,
      backgroundColor: "#fff",
      title: panelTitles.map((t, i) => ({
        text: t,
        left: 14,
        top: titleTops[i],
        padding: 0,
        textStyle: { fontSize: 20, fontWeight: "normal", color: "#000", fontFamily: FONT },
      })),
      legend: legendTops.map((top) => ({
        orient: "vertical",
        left: 570,
        top,
        padding: 0,
        itemWidth: 7,
        itemHeight: 7,
        itemGap: 8.5,
        selectedMode: false,
        textStyle: { fontSize: 20, color: "#000", fontFamily: FONT, padding: [0, 0, 0, 3] },
        data: [
          { name: seriesNames[0], icon: "rect", itemStyle: { color: "#000", borderWidth: 0 } },
          { name: seriesNames[1], icon: "circle", itemStyle: { color: "#fff", borderColor: "#000", borderWidth: 1.2 } },
        ],
      })),
      grid: grids,
      xAxis: xAxes,
      yAxis: yAxes,
      graphic: axisTitleY.map((y) => ({
        type: "text",
        x: 552,
        y,
        style: {
          text: xAxisTitle,
          fontSize: 20,
          fill: "#000",
          fontFamily: FONT,
          align: "right",
          verticalAlign: "middle",
        },
      })),
      series,
    });
    return () => chart.dispose();
  }, []);
  return <div ref={ref} style={{ width: 656, height: 1376 }} />;
}
